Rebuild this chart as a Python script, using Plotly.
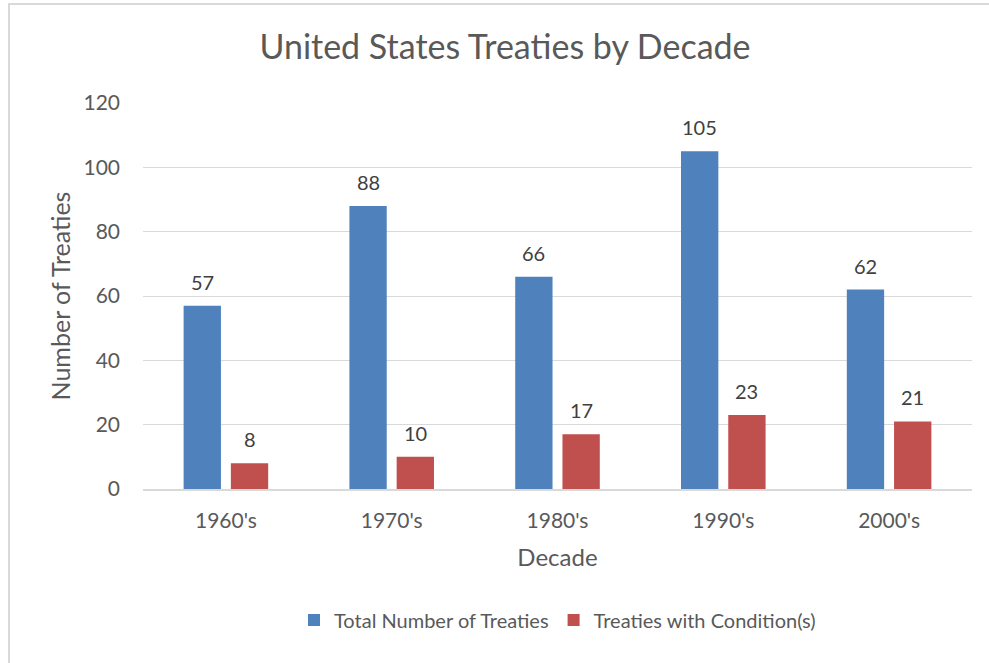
import plotly.graph_objects as go

decades = ["1960's", "1970's", "1980's", "1990's", "2000's"]
total_treaties = [57, 88, 66, 105, 62]
with_conditions = [8, 10, 17, 23, 21]

W, H = 989, 663
L, R, T, B = 143, 17, 103, 174
FONT = "Lato"
GREY = "#595959"

fig = go.Figure()
fig.add_trace(go.Bar(x=decades, y=total_treaties, name="Total Number of Treaties",
                     marker=dict(color="#4F81BD", line=dict(width=0))))
fig.add_trace(go.Bar(x=decades, y=with_conditions, name="Treaties with Condition(s)",
                     marker=dict(color="#C0504D", line=dict(width=0))))

# data labels above each bar
slot = (W - L - R) / len(decades) * (1 - 0.43) / 2
for vals, shift in [(total_treaties, -slot / 2), (with_conditions, slot / 2)]:
    for d, v in zip(decades, vals):
        fig.add_annotation(x=d, y=v, text=str(v), showarrow=False, xshift=shift,
                           yanchor="bottom", yshift=10,
                           font=dict(family=FONT, size=20, color="#404040"))

# outer chart border (runs off the right and bottom edges)
pw, ph = W - L - R, H - T - B
fig.add_shape(type="rect", xref="paper", yref="paper",
              x0=(9 - L) / pw, x1=(W + 10 - L) / pw,
              y0=(T + ph - H - 10) / ph, y1=(T + ph - 4) / ph,
              line=dict(color="#D9D9D9", width=2), layer="below")

fig.update_layout(
    width=W, height=H,
    margin=dict(l=L, r=R, t=T, b=B),
    paper_bgcolor="white", plot_bgcolor="white",
    barmode="group", bargap=0.43, bargroupgap=0.21,
    font=dict(family=FONT, color=GREY),
    title=dict(text="United States Treaties by Decade", x=505 / W, xanchor="center",
               y=1 - 47 / H, yanchor="middle", font=dict(size=34, color=GREY)),
    xaxis=dict(title=dict(text="Decade", font=dict(size=24), standoff=18),
               tickfont=dict(size=21, color=GREY), showline=True, linecolor="#D9D9D9",
               linewidth=1.5, showgrid=False, ticklabelstandoff=12),
    yaxis=dict(title=dict(text="Number of Treaties", font=dict(size=25), standoff=5),
               range=[0, 120], dtick=20, tickfont=dict(size=21, color=GREY),
               gridcolor="#D9D9D9", gridwidth=1, zeroline=False, ticklabelstandoff=22),
    legend=dict(orientation="h", x=0.5, xanchor="center", y=(T + ph - 620) / ph,
                yanchor="middle", font=dict(size=20, color=GREY)),
    showlegend=True,
)

fig.write_html("out.html", config={"displayModeBar": False},
               post_script="document.body.style.margin='0';")
